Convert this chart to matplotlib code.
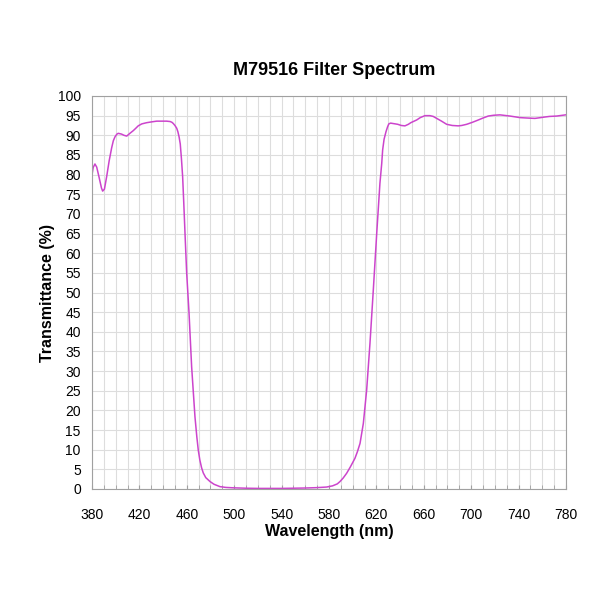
import numpy as np
import matplotlib.pyplot as plt

plt.rcParams['font.family'] = ['Liberation Sans', 'DejaVu Sans']

# wavelength (nm) and transmittance (%)
wavelength = [380, 381, 382.5, 384, 386, 388, 389, 390.5, 392.4, 394.5, 396.6, 398, 399.4,
              401, 402.2, 405, 407, 409.3, 412, 414.9, 417, 419, 422, 426, 430, 434.6,
              439, 443, 446, 447.5, 448.6, 450, 451.5, 452.5, 453.5, 454.5, 455.5, 456.5,
              457.5, 458.5, 459.9, 461.9, 464.1, 466.9, 468.5, 469.7, 471, 472.5,
              473.9, 476, 479.6, 483, 488, 493, 499.2, 510, 520, 530, 540, 550, 560,
              570, 578, 583, 587, 589.3, 592, 594.9, 598, 601.9, 604, 606.2, 609, 611.8,
              614.6, 617.4, 620.3, 623, 624.5, 625.3, 626.5, 628.1, 629.5, 630.5, 632,
              634, 638, 641, 644.1, 647, 649, 654, 657, 661, 665.2, 668, 670.9, 675,
              679.3, 684, 689.1, 692, 696.2, 701, 706, 710, 714.4, 719, 724.3, 732.7,
              741.2, 747, 753.8, 760.9, 766, 772.2, 779.7]
transmittance = [79.9, 81.8, 82.7, 81.9, 79.3, 76.6, 75.8, 76.3, 79.5, 83.5, 86.8, 88.6,
                 89.6, 90.3, 90.5, 90.3, 90.0, 89.8, 90.5, 91.2, 91.8, 92.4, 92.9, 93.2,
                 93.4, 93.6, 93.6, 93.6, 93.5, 93.3, 93.0, 92.5, 91.8, 90.9, 89.6, 87.8,
                 84.0, 79.5, 72.5, 65.1, 55.0, 44.8, 31.1, 18.4, 13.2, 9.9, 7.4, 5.4,
                 4.1, 2.9, 1.9, 1.2, 0.6, 0.4, 0.3, 0.2, 0.15, 0.15, 0.15, 0.2, 0.25,
                 0.35, 0.5, 0.8, 1.3, 1.9, 2.8, 4.0, 5.6, 7.8, 9.5, 11.6, 16.7, 25.2,
                 37.1, 50.6, 65.1, 77.8, 82.8, 86.3, 89.0, 90.9, 92.2, 92.9, 93.1,
                 93.0, 92.8, 92.5, 92.4, 92.8, 93.2, 93.9, 94.5, 95.0, 95.0, 94.8, 94.3,
                 93.6, 92.8, 92.5, 92.4, 92.5, 92.8, 93.3, 93.9, 94.4, 94.9, 95.1, 95.2,
                 94.9, 94.5, 94.4, 94.3, 94.6, 94.8, 94.9, 95.2]

fig = plt.figure(figsize=(6, 6), dpi=100)
ax = fig.add_axes([0.1533, 0.185, 0.79, 0.655])

ax.plot(wavelength, transmittance, color='#CC44CC', lw=1.1)

ax.set_xlim(380, 780)
ax.set_ylim(0, 100)
ax.set_xticks(np.arange(380, 781, 40))
ax.set_xticks(np.arange(380, 781, 10), minor=True)
ax.set_yticks(np.arange(0, 101, 5))
ax.grid(True, which='both', color='#DDDDDD', lw=0.8)
ax.set_axisbelow(True)
for s in ax.spines.values():
    s.set_color('#A0A0A0')
ax.tick_params(axis='x', which='both', direction='in', length=3, color='#A0A0A0',
               labelsize=10, pad=14)
ax.tick_params(axis='y', length=0, labelsize=10, pad=8)

ax.set_xlabel('Wavelength (nm)', fontsize=11.5, fontweight='bold', labelpad=1)
ax.set_ylabel('Transmittance (%)', fontsize=11.5, fontweight='bold', labelpad=2)
fig.text(0.557, 0.883, 'M79516 Filter Spectrum', ha='center', va='center',
         fontsize=13, fontweight='bold')

fig.savefig('out.png', dpi=100)
